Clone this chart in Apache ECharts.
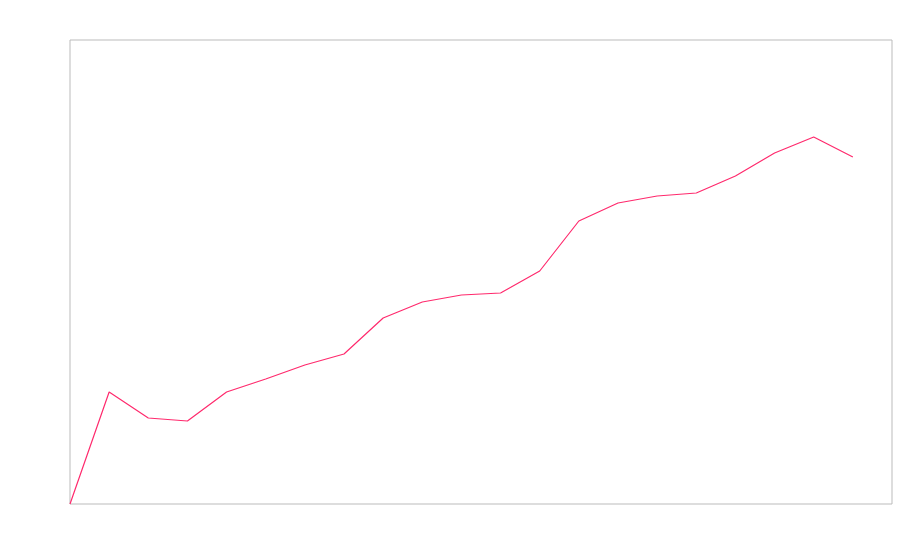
<!DOCTYPE html>
<html>
<head>
<meta charset="utf-8">
<script src="https://cdn.jsdelivr.net/npm/echarts@6/dist/echarts.min.js"></script>
<style>html,body{margin:0;padding:0;background:#fff;}#c{width:900px;height:560px;}</style>
</head>
<body>
<div id="c"></div>
<script>
const categories = ['0','1','2','3','4','5','6','7','8','9','10','11','12','13','14','15','16','17','18','19','20','21'];
const values = [0, 112, 86, 83, 112, 125, 139, 150, 186, 202, 209, 211, 233, 283, 301, 308, 311, 328, 351, 367, 347, null];
const yMin = 0;
const yMax = 464;

const chart = echarts.init(document.getElementById('c'), null, {renderer: 'canvas'});
chart.setOption({
  animation: false,
  backgroundColor: '#fff',
  grid: {left: 70, right: 8, top: 40, bottom: 56, show: true, borderColor: '#bbb', borderWidth: 1, backgroundColor: 'transparent'},
  xAxis: {
    type: 'category', data: categories, boundaryGap: false,
    axisLine: {show: false}, axisTick: {show: false}, axisLabel: {show: false}, splitLine: {show: false}
  },
  yAxis: {
    type: 'value', min: yMin, max: yMax,
    axisLine: {show: false}, axisTick: {show: false}, axisLabel: {show: false}, splitLine: {show: false}
  },
  series: [{
    type: 'line', data: values, showSymbol: false, symbol: 'none',
    lineStyle: {color: '#ff2a6d', width: 1.2},
    itemStyle: {color: '#ff2a6d'}
  }]
});
</script>
</body>
</html>
